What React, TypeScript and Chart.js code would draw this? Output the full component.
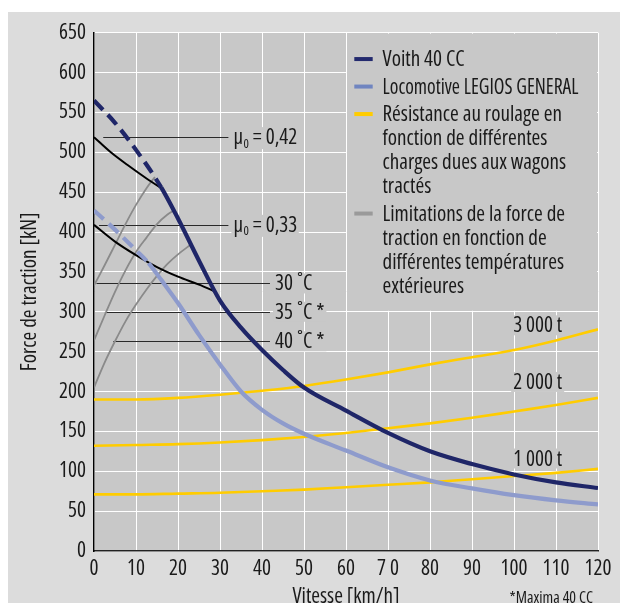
import React, { useEffect, useRef } from 'react';
import { Chart, registerables } from 'chart.js';

Chart.register(...registerables);

const TEXT = '#1a1a1a';
const PLOT_BG = '#c8c8c8';
const OUTER_BG = '#dcdcdc';

// ---- axes ----
const X_TICK_LABELS = ['0', '10', '20', '30', '40', '50', '60', '7 0', '80', '90', '100', '110', '120'];
const X_MIN = 0;
const X_MAX = 120;
const X_STEP = 10;
const Y_MIN = 0;
const Y_MAX = 650;
const Y_STEP = 50;
const X_TITLE = 'Vitesse [km/h]';
const Y_TITLE = 'Force de traction [kN]';
const FOOTNOTE = '*Maxima 40 CC';

// ---- Voith 40 CC ----
const VOITH_X = [0, 5, 10, 16, 20, 25, 30, 35, 40, 45, 50, 60, 70, 80, 90, 100, 110, 120];
const VOITH_Y = [565, 537, 503, 456, 417, 364, 314, 280, 252, 227, 205, 176, 148, 125, 109, 96, 86, 79];
const VOITH_DASH_END = 16;

// ---- Locomotive LEGIOS GENERAL ----
const LEGIOS_X = [0, 5, 10, 13, 16, 20, 25, 30, 35, 40, 45, 50, 60, 70, 80, 90, 100, 110, 120];
const LEGIOS_Y = [427, 403, 377, 361, 340, 311, 271, 234, 200, 177, 160, 147, 126, 105, 88.5, 78.5, 70, 63.5, 58.5];
const LEGIOS_DASH_END = 13;

// ---- adhesion curves (mu0) ----
const MU_HIGH_X = [0, 4, 8, 12, 16];
const MU_HIGH_Y = [519, 500, 484, 469, 455];
const MU_LOW_X = [0, 5, 10, 15, 20, 25, 29];
const MU_LOW_Y = [409, 388, 371, 356, 344, 334, 325];

// ---- temperature limits ----
const T30_X = [0, 2.5, 5, 7.5, 10, 12.5, 14.5];
const T30_Y = [333, 358, 384, 410, 434, 455, 469];
const T35_X = [0, 2.5, 5, 7.5, 10, 12.5, 15, 17.5, 19];
const T35_Y = [264, 295, 325, 352, 375, 393, 410, 422, 427];
const T40_X = [0, 2.5, 5, 7.5, 10, 12.5, 15, 17.5, 20, 23];
const T40_Y = [205, 236, 263, 288, 309, 328, 345, 360, 372, 384];

// ---- rolling resistance ----
const LOAD_X = [0, 10, 20, 30, 40, 50, 60, 70, 80, 90, 100, 110, 120];
const LOAD_1000_Y = [71, 71, 72, 73, 75, 77, 80, 83, 86, 90, 94, 98, 103];
const LOAD_2000_Y = [132, 133, 134, 136, 139, 143, 148, 154, 160, 167, 175, 183, 192];
const LOAD_3000_Y = [190, 190, 192, 196, 201, 207, 215, 224, 234, 243, 252, 264, 278];

// ---- annotations ----
const MU_LABELS = ['0,42', '0,33'];
const MU_LINE_Y = [519, 409];
const MU_LINE_X0 = [2.2, 1.2];
const MU_LINE_X1 = 32;
const MU_LABEL_X = 33.2;
const TEMP_LABELS = ['30 ˚C', '35 ˚C *', '40 ˚C *'];
const TEMP_LINE_Y = [335.5, 300, 263];
const TEMP_LINE_X0 = [0.6, 2.6, 4.6];
const TEMP_LINE_X1 = 41.9;
const TEMP_LABEL_X = 43.1;
const LOAD_LABELS = ['1 000 t', '2 000 t', '3 000 t'];
const LOAD_LABEL_Y = [116, 212, 283];
const LOAD_LABEL_X = 99.8;

// ---- legend ----
const LEGEND_BOX_X = [60, 120];
const LEGEND_BOX_Y = [300, 650];
const LEGEND_LABELS = [
  ['Voith 40 CC'],
  ['Locomotive LEGIOS GENERAL'],
  ['Résistance au roulage en', 'fonction de différentes', 'charges dues aux wagons', 'tractés'],
  ['Limitations de la force de', 'traction en fonction de', 'différentes températures', 'extérieures'],
];
const LEGEND_COLORS = ['#232a6e', '#7085c0', '#ffcc00', '#9a9a9a'];

const COL_VOITH = '#1f2668';
const COL_LEGIOS = '#8e9bcc';
const COL_LOAD = '#ffcc00';
const COL_TEMP = '#8a8a8a';
const COL_MU = '#000000';

const pts = (xs: number[], ys: number[]) => xs.map((x, i) => ({ x, y: ys[i] }));

type FontPick = { family: string; stretch: string; k: number };

// choose the narrowest installed face that resembles a condensed grotesque
function pickFont(): FontPick {
  const c = document.createElement('canvas').getContext('2d') as CanvasRenderingContext2D;
  const sample = 'Force de traction [kN]';
  const target = 159;
  const w = (f: string) => {
    c.font = f;
    return c.measureText(sample).width;
  };
  const mono = w('20px monospace');
  const has = (fam: string) => Math.abs(w(`20px ${fam}, monospace`) - mono) > 0.5;
  const cands: { family: string; stretch: string }[] = [
    { family: '"Liberation Sans Narrow"', stretch: '' },
    { family: '"Noto Sans"', stretch: 'condensed' },
    { family: '"Open Sans"', stretch: 'condensed' },
    { family: 'Roboto', stretch: 'condensed' },
    { family: '"DejaVu Sans Condensed"', stretch: '' },
    { family: '"DejaVu Sans"', stretch: 'condensed' },
    { family: '"Liberation Sans"', stretch: '' },
    { family: 'Roboto', stretch: '' },
  ];
  let best: FontPick | null = null;
  let bestErr = Infinity;
  for (const cd of cands) {
    if (!has(cd.family)) continue;
    let width: number;
    if (cd.stretch) {
      const normal = w(`20px ${cd.family}`);
      width = w(`${cd.stretch} 20px ${cd.family}`);
      if (!(width < normal - 2)) continue;
    } else {
      width = w(`20px ${cd.family}`);
    }
    const err = Math.abs(width - target);
    if (err < bestErr) {
      bestErr = err;
      const k = Math.max(0.85, Math.min(1.08, target / width));
      best = { family: cd.family, stretch: cd.stretch, k };
    }
  }
  return best || { family: 'sans-serif', stretch: '', k: 0.85 };
}

function fontStr(f: FontPick, size: number) {
  return `${f.stretch ? f.stretch + ' ' : ''}${(size * f.k).toFixed(2)}px ${f.family}`;
}

function makeDecor(F: FontPick) {
  return {
    id: 'decor',
    beforeDraw(chart: any) {
      const { ctx, chartArea: a } = chart;
      ctx.save();
      ctx.fillStyle = PLOT_BG;
      ctx.fillRect(a.left, a.top, a.right - a.left, a.bottom - a.top);
      ctx.restore();
    },
    beforeDatasetsDraw(chart: any) {
      const { ctx } = chart;
      const xs = chart.scales.x;
      const ys = chart.scales.y;
      const px = (v: number) => xs.getPixelForValue(v);
      const py = (v: number) => ys.getPixelForValue(v);
      ctx.save();

      // legend box
      const bx0 = px(LEGEND_BOX_X[0]) + 1;
      const bx1 = px(LEGEND_BOX_X[1]) - 1;
      const by0 = py(LEGEND_BOX_Y[1]) + 1;
      const by1 = py(LEGEND_BOX_Y[0]) - 1;
      ctx.fillStyle = PLOT_BG;
      ctx.fillRect(bx0, by0, bx1 - bx0, by1 - by0);

      // legend items
      let ly = py(LEGEND_BOX_Y[1]) + 27.4;
      const lx = px(LEGEND_BOX_X[0]);
      ctx.font = fontStr(F, 20);
      ctx.textBaseline = 'middle';
      ctx.textAlign = 'left';
      LEGEND_LABELS.forEach((lines, i) => {
        ctx.fillStyle = LEGEND_COLORS[i];
        ctx.fillRect(lx + 8.3, ly - 3, 18.4, 4);
        ctx.fillStyle = TEXT;
        lines.forEach((line, j) => {
          ctx.fillText(line, lx + 36.5, ly + 24 * j, 196);
        });
        ly += 24 * (lines.length - 1) + 27.5;
      });

      // annotation lines
      ctx.strokeStyle = '#2a2a2a';
      ctx.lineWidth = 1;
      MU_LINE_Y.forEach((v, i) => {
        ctx.beginPath();
        ctx.moveTo(px(MU_LINE_X0[i]), Math.round(py(v)) + 0.5);
        ctx.lineTo(px(MU_LINE_X1), Math.round(py(v)) + 0.5);
        ctx.stroke();
      });
      TEMP_LINE_Y.forEach((v, i) => {
        ctx.beginPath();
        ctx.moveTo(px(TEMP_LINE_X0[i]), Math.round(py(v)) + 0.5);
        ctx.lineTo(px(TEMP_LINE_X1), Math.round(py(v)) + 0.5);
        ctx.stroke();
      });

      const label = (text: string, x: number, y: number) => {
        ctx.font = fontStr(F, 20);
        const w = ctx.measureText(text).width;
        ctx.fillStyle = PLOT_BG;
        ctx.fillRect(x - 2, y - 10, w + 4, 20);
        ctx.fillStyle = TEXT;
        ctx.fillText(text, x, y + 1);
      };

      // mu labels
      MU_LINE_Y.forEach((v, i) => {
        const x0 = px(MU_LABEL_X);
        const y0 = py(v);
        ctx.font = fontStr(F, 20);
        const wMu = ctx.measureText('μ').width;
        ctx.font = fontStr(F, 12);
        const wSub = ctx.measureText('0').width;
        ctx.font = fontStr(F, 20);
        const rest = ' = ' + MU_LABELS[i];
        const wRest = ctx.measureText(rest).width;
        ctx.fillStyle = PLOT_BG;
        ctx.fillRect(x0 - 2, y0 - 10, wMu + wSub + wRest + 4, 22);
        ctx.fillStyle = TEXT;
        ctx.fillText('μ', x0, y0 + 1);
        ctx.font = fontStr(F, 12);
        ctx.fillText('0', x0 + wMu + 0.5, y0 + 7);
        ctx.font = fontStr(F, 20);
        ctx.fillText(rest, x0 + wMu + wSub + 0.5, y0 + 1);
      });

      TEMP_LABELS.forEach((t, i) => label(t, px(TEMP_LABEL_X), py(TEMP_LINE_Y[i])));
      LOAD_LABELS.forEach((t, i) => label(t, px(LOAD_LABEL_X), py(LOAD_LABEL_Y[i])));

      ctx.restore();
    },
    afterDraw(chart: any) {
      const { ctx, width, height } = chart;
      ctx.save();
      ctx.font = fontStr(F, 15);
      ctx.fillStyle = TEXT;
      ctx.textAlign = 'right';
      ctx.textBaseline = 'middle';
      ctx.fillText(FOOTNOTE, width - 27, height - 5);
      ctx.restore();
    },
  };
}

export default function App() {
  const ref = useRef<HTMLCanvasElement | null>(null);

  useEffect(() => {
    if (!ref.current) return;
    const F = pickFont();
    const cf = (size: number, extra: any = {}) => ({
      family: F.family,
      weight: F.stretch || undefined,
      size: +(size * F.k).toFixed(2),
      ...extra,
    });
    const line = (
      data: { x: number; y: number }[],
      color: string,
      width: number,
      dashEnd?: number,
    ) => ({
      data,
      borderColor: color,
      backgroundColor: color,
      borderWidth: width,
      pointRadius: 0,
      pointHoverRadius: 0,
      fill: false,
      cubicInterpolationMode: 'monotone' as const,
      borderCapStyle: 'butt' as const,
      segment:
        dashEnd !== undefined
          ? { borderDash: (c: any) => (c.p1.parsed.x <= dashEnd ? [13, 7] : undefined) }
          : undefined,
    });

    const chart = new Chart(ref.current, {
      type: 'line',
      data: {
        datasets: [
          { label: 'Voith 40 CC', ...line(pts(VOITH_X, VOITH_Y), COL_VOITH, 4.2, VOITH_DASH_END) },
          { label: 'Locomotive LEGIOS GENERAL', ...line(pts(LEGIOS_X, LEGIOS_Y), COL_LEGIOS, 4.2, LEGIOS_DASH_END) },
          { label: 'mu 0,42', ...line(pts(MU_HIGH_X, MU_HIGH_Y), COL_MU, 2) },
          { label: 'mu 0,33', ...line(pts(MU_LOW_X, MU_LOW_Y), COL_MU, 2) },
          { label: '30', ...line(pts(T30_X, T30_Y), COL_TEMP, 1.8) },
          { label: '35', ...line(pts(T35_X, T35_Y), COL_TEMP, 1.8) },
          { label: '40', ...line(pts(T40_X, T40_Y), COL_TEMP, 1.8) },
          { label: '1000', ...line(pts(LOAD_X, LOAD_1000_Y), COL_LOAD, 2.6) },
          { label: '2000', ...line(pts(LOAD_X, LOAD_2000_Y), COL_LOAD, 2.6) },
          { label: '3000', ...line(pts(LOAD_X, LOAD_3000_Y), COL_LOAD, 2.6) },
        ] as any,
      },
      options: {
        animation: false,
        responsive: false,
        devicePixelRatio: 1,
        events: [],
        layout: { padding: { top: 17, right: 22, left: 0, bottom: 0 } },
        plugins: { legend: { display: false }, tooltip: { enabled: false } },
        scales: {
          x: {
            type: 'linear',
            min: X_MIN,
            max: X_MAX,
            afterFit: (s: any) => {
              s.height = 52;
            },
            ticks: {
              stepSize: X_STEP,
              autoSkip: false,
              maxRotation: 0,
              padding: 5,
              color: TEXT,
              font: cf(20),
              callback: (_v: any, i: number) => X_TICK_LABELS[i],
            },
            grid: { color: '#ffffff', lineWidth: 1, drawTicks: false },
            border: { display: true, color: '#222222', width: 1.5 },
            title: {
              display: true,
              text: X_TITLE,
              color: TEXT,
              font: cf(20, { lineHeight: 0.6 / F.k }),
              padding: 0,
            },
          },
          y: {
            type: 'linear',
            min: Y_MIN,
            max: Y_MAX,
            afterFit: (s: any) => {
              s.width = 86;
            },
            ticks: {
              stepSize: Y_STEP,
              padding: 8,
              color: TEXT,
              font: cf(20),
            },
            grid: { color: '#ffffff', lineWidth: 1, drawTicks: false },
            border: { display: true, color: '#000000', width: 1.5 },
            title: {
              display: true,
              text: Y_TITLE,
              color: TEXT,
              font: cf(20, { lineHeight: 1.2 }),
              padding: { top: 21.5 - 12 * F.k, bottom: 0 },
            },
          },
        },
      } as any,
      plugins: [makeDecor(F)],
    });
    return () => chart.destroy();
  }, []);

  return (
    <div
      style={{
        position: 'fixed',
        left: 8,
        top: 12,
        width: 612,
        height: 591,
        background: OUTER_BG,
      }}
    >
      <canvas ref={ref} width={612} height={591} style={{ display: 'block' }} />
    </div>
  );
}
